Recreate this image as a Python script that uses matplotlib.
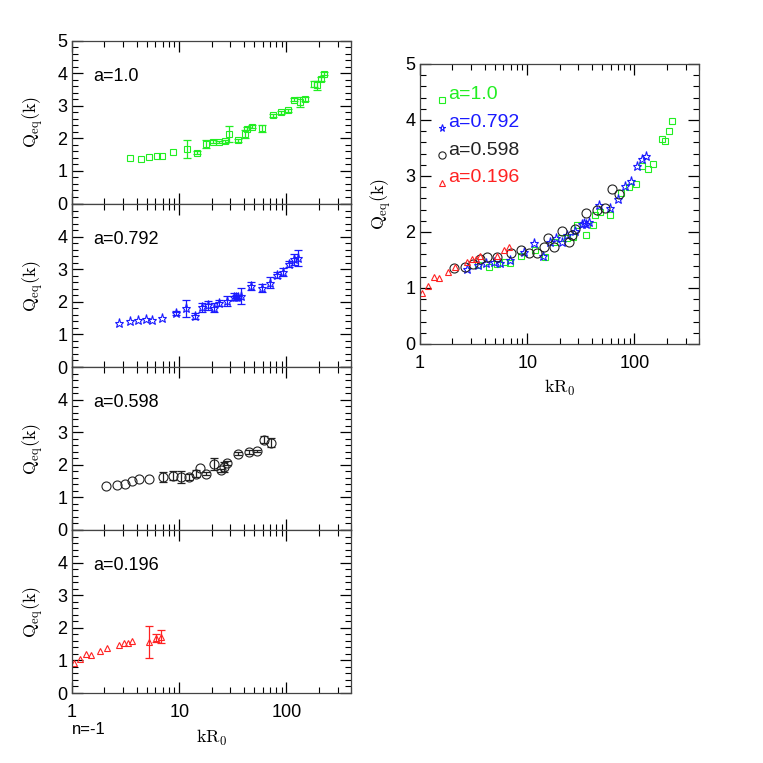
import numpy as np
import matplotlib
matplotlib.use("Agg")
import matplotlib.pyplot as plt
from matplotlib.ticker import MultipleLocator, LogLocator, NullFormatter, FixedLocator, FixedFormatter

plt.rcParams['font.family'] = ['Liberation Sans', 'DejaVu Sans']
plt.rcParams['mathtext.fontset'] = 'cm'

# a = 1.0 (green squares)
k_a10 = [3.51, 4.38, 5.28, 6.18, 6.98, 8.72, 11.8, 14.7, 17.7, 20.8, 23.5, 26.5, 29.3, 35.4,
         41.4, 43.2, 47.4, 59.3, 74.5, 89.1, 104, 118, 134, 150, 179, 194, 208, 223]
q_a10 = [1.41, 1.37, 1.42, 1.47, 1.45, 1.58, 1.67, 1.56, 1.83, 1.90, 1.89, 1.91, 2.13, 1.94,
         2.13, 2.30, 2.36, 2.31, 2.70, 2.80, 2.86, 3.18, 3.12, 3.21, 3.66, 3.62, 3.81, 3.98]
e_a10 = [0, 0, 0, 0, 0, 0, 0.28, 0.05, 0.13, 0.05, 0.04, 0.05, 0.24, 0.04,
         0.12, 0.05, 0.05, 0.11, 0.04, 0.04, 0.05, 0.05, 0.15, 0.06, 0.10, 0.13, 0.06, 0.04]

# a = 0.792 (blue stars)
k_a0792 = [2.77, 3.46, 4.17, 4.88, 5.56, 6.94, 9.31, 11.6, 14.0, 16.3, 18.5, 21.1, 23.3, 27.9,
           32.4, 34.1, 35.6, 37.4, 46.8, 58.8, 70.8, 82.4, 93.7, 106, 118, 129]
q_a0792 = [1.34, 1.41, 1.45, 1.47, 1.44, 1.50, 1.65, 1.80, 1.57, 1.83, 1.89, 1.82, 1.95, 2.02,
           2.15, 2.16, 2.14, 2.18, 2.48, 2.42, 2.59, 2.82, 2.91, 3.17, 3.31, 3.35]
e_a0792 = [0, 0, 0, 0, 0, 0, 0.07, 0.26, 0.10, 0.14, 0.14, 0.13, 0.09, 0.16,
           0.11, 0.05, 0.05, 0.24, 0.13, 0.12, 0.17, 0.10, 0.12, 0.09, 0.17, 0.24]

# a = 0.598 (black circles)
k_a0598 = [2.09, 2.61, 3.13, 3.66, 4.23, 5.28, 7.03, 8.79, 10.4, 12.3, 14.3, 15.7, 17.6, 21.2,
           24.5, 26.1, 27.9, 35.6, 44.4, 53.2, 61.9, 71.3]
q_a0598 = [1.36, 1.37, 1.42, 1.51, 1.56, 1.56, 1.63, 1.67, 1.63, 1.63, 1.73, 1.89, 1.73, 2.02,
           1.83, 1.94, 2.05, 2.34, 2.39, 2.42, 2.77, 2.68]
e_a0598 = [0, 0, 0, 0, 0, 0, 0.16, 0.15, 0.18, 0.09, 0.10, 0, 0.05, 0.19,
           0.04, 0.15, 0.06, 0.04, 0.06, 0.04, 0.11, 0.13]

# a = 0.196 (red triangles)
k_a0196 = [1.05, 1.20, 1.36, 1.52, 1.81, 2.12, 2.73, 3.04, 3.34, 3.66, 5.28, 6.06, 6.83]
q_a0196 = [0.91, 1.04, 1.19, 1.18, 1.28, 1.38, 1.46, 1.52, 1.52, 1.58, 1.57, 1.68, 1.73]
e_a0196 = [0, 0, 0, 0, 0, 0, 0, 0, 0, 0, 0.49, 0.13, 0.19]

series = [
    ("a=1.0", k_a10, q_a10, e_a10, "#22ee22", "s", 5.0),
    ("a=0.792", k_a0792, q_a0792, e_a0792, "#1a1aff", "*", 6.5),
    ("a=0.598", k_a0598, q_a0598, e_a0598, "#222222", "o", 6.5),
    ("a=0.196", k_a0196, q_a0196, e_a0196, "#ff2222", "^", 5.0),
]

W = 763.0
fig = plt.figure(figsize=(7.63, 7.63), dpi=100)


def style_axes(ax, top_label=True):
    ax.set_xscale("log")
    ax.set_xlim(1, 400)
    ax.set_ylim(0, 5)
    ax.xaxis.set_major_locator(FixedLocator([1, 10, 100]))
    ax.xaxis.set_minor_locator(LogLocator(base=10, subs=np.arange(2, 10)))
    ax.xaxis.set_minor_formatter(NullFormatter())
    ax.yaxis.set_major_locator(FixedLocator([0, 1, 2, 3, 4, 5]))
    ax.yaxis.set_minor_locator(MultipleLocator(0.2))
    labs = ["0", "1", "2", "3", "4", "5" if top_label else ""]
    ax.yaxis.set_major_formatter(FixedFormatter(labs))
    ax.tick_params(which="both", direction="in", top=True, right=True, labelsize=13)
    ax.tick_params(which="major", length=8, width=0.9)
    ax.tick_params(which="minor", length=4, width=0.8)
    for s in ax.spines.values():
        s.set_linewidth(0.9)
        s.set_color("#444444")
    ax.set_ylabel(r"$\mathrm{Q_{eq}(k)}$", fontsize=13, labelpad=8)


def draw(ax, k, q, e, col, mk, ms, bars=True):
    k = np.array(k)
    q = np.array(q)
    e = np.array(e)
    ax.plot(k, q, linestyle="none", marker=mk, ms=ms, mfc="none", mec=col, mew=0.8)
    if bars:
        m = e > 0
        ax.errorbar(k[m], q[m], yerr=e[m], fmt="none", ecolor=col, elinewidth=0.9,
                    capsize=3, capthick=0.9)


# left column, one panel per a
tops = [40.5, 204, 367, 530]
left_axes = []
for i, (lab, k, q, e, col, mk, ms) in enumerate(series):
    top = tops[i]
    ax = fig.add_axes([72 / W, 1 - (top + 163) / W, 279 / W, 163 / W])
    style_axes(ax, top_label=(i == 0))
    draw(ax, k, q, e, col, mk, ms)
    ax.text(0.075, 0.78, lab, transform=ax.transAxes, fontsize=13, va="center")
    if i < 3:
        ax.tick_params(labelbottom=False)
    left_axes.append(ax)

axb = left_axes[-1]
axb.xaxis.set_major_formatter(FixedFormatter(["1", "10", "100"]))
axb.tick_params(axis="x", pad=8)
axb.set_xlabel(r"$\mathrm{kR_0}$", fontsize=13, labelpad=5)
fig.text(72 / W, 1 - 730 / W, "n=-1", fontsize=12, va="center", ha="left")

# right panel, all a together
axr = fig.add_axes([420 / W, 1 - 344 / W, 279 / W, 280 / W])
style_axes(axr)
axr.xaxis.set_major_formatter(FixedFormatter(["1", "10", "100"]))
axr.tick_params(axis="x", pad=8)
axr.set_xlabel(r"$\mathrm{kR_0}$", fontsize=13, labelpad=4)
for j, (lab, k, q, e, col, mk, ms) in enumerate(series):
    draw(axr, k, q, e, col, mk, ms, bars=False)
    yy = 0.89 - 0.099 * j
    axr.plot([0.079], [yy - 0.018], transform=axr.transAxes, linestyle="none", marker=mk,
             ms=ms * 0.8, mfc="none", mec=col, mew=0.8)
    axr.text(0.1, yy, lab, transform=axr.transAxes, fontsize=14, color=col, va="center")

fig.savefig("out.png", dpi=100)
